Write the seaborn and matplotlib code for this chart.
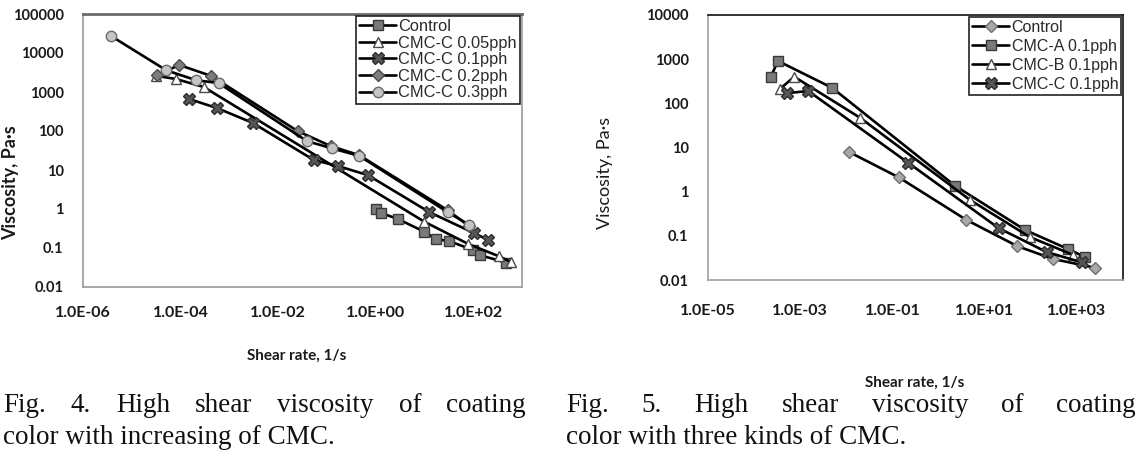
import numpy as np
import pandas as pd
import matplotlib
matplotlib.use("Agg")
import matplotlib.pyplot as plt
import seaborn as sns
from matplotlib.ticker import FixedLocator, FixedFormatter, NullLocator

# ---------------- Fig. 4 data (left) ----------------
left_names = ["Control", "CMC-C 0.05pph", "CMC-C 0.1pph", "CMC-C 0.2pph", "CMC-C 0.3pph"]
ctrl4_x = [1.0, 1.3, 2.9, 10, 17, 32, 100, 135, 480]
ctrl4_y = [1.0, 0.79, 0.55, 0.26, 0.17, 0.15, 0.089, 0.066, 0.042]
c005_x = [3.2e-5, 8.1e-5, 3.0e-4, 10, 80, 330, 590]
c005_y = [2600, 2150, 1340, 0.47, 0.126, 0.062, 0.044]
c01_x = [1.5e-4, 5.5e-4, 3.0e-3, 0.054, 0.17, 0.69, 12.6, 105, 204]
c01_y = [660, 390, 162, 18, 12.6, 7.4, 0.83, 0.24, 0.16]
c02_x = [3.3e-5, 9.5e-5, 4.3e-4, 0.025, 0.12, 0.46, 30, 83]
c02_y = [2750, 4900, 2570, 100, 41, 24, 0.93, 0.36]
c03_x = [3.8e-6, 5.1e-5, 2.1e-4, 6.0e-4, 0.039, 0.126, 0.46, 30, 83]
c03_y = [27000, 3600, 2000, 1700, 55, 36, 23, 0.83, 0.39]

# ---------------- Fig. 5 data (right) ----------------
right_names = ["Control", "CMC-A 0.1pph", "CMC-B 0.1pph", "CMC-C 0.1pph"]
ctrl5_x = [0.0115, 0.138, 4.0, 50, 300, 2450]
ctrl5_y = [7.9, 2.1, 0.23, 0.059, 0.030, 0.019]
a_x = [2.3e-4, 3.3e-4, 4.9e-3, 2.3, 76, 650, 1500]
a_y = [400, 910, 225, 1.35, 0.135, 0.050, 0.033]
b_x = [3.6e-4, 7.4e-4, 0.020, 4.8, 95, 830]
b_y = [210, 400, 47, 0.65, 0.094, 0.037]
c_x = [5.1e-4, 1.5e-3, 0.22, 20, 220, 1300]
c_y = [170, 190, 4.5, 0.15, 0.043, 0.025]

# tick values / labels
left_xticks = [1e-6, 1e-4, 1e-2, 1e0, 1e2]
left_xlabels = ["1.0E-06", "1.0E-04", "1.0E-02", "1.0E+00", "1.0E+02"]
left_yticks = [1e5, 1e4, 1e3, 1e2, 1e1, 1e0, 1e-1, 1e-2]
left_ylabels = ["100000", "10000", "1000", "100", "10", "1", "0.1", "0.01"]
right_xticks = [1e-5, 1e-3, 1e-1, 1e1, 1e3]
right_xlabels = ["1.0E-05", "1.0E-03", "1.0E-01", "1.0E+01", "1.0E+03"]
right_yticks = [1e4, 1e3, 1e2, 1e1, 1e0, 1e-1, 1e-2]
right_ylabels = ["10000", "1000", "100", "10", "1", "0.1", "0.01"]

cap4_line1 = "Fig. 4. High shear viscosity of coating"
cap4_line2 = "color with increasing of CMC."
cap5_line1 = "Fig. 5. High shear viscosity of coating"
cap5_line2 = "color with three kinds of CMC."

sns.set_theme(style="white")
plt.rcParams['font.family'] = ['Lato', 'DejaVu Sans']

W, H = 1139, 459
fig = plt.figure(figsize=(W / 100, H / 100), dpi=100)
fig.patch.set_facecolor("white")


def rect(l, t, r, b):
    return [l / W, 1 - b / H, (r - l) / W, (b - t) / H]


ax1 = fig.add_axes(rect(83, 14, 522, 287))
ax2 = fig.add_axes(rect(708, 15, 1123, 280))


def draw(ax, x, y, marker, fc, ec, ms):
    sns.lineplot(x=x, y=y, ax=ax, color="black", linewidth=1.9, marker=marker,
                 markerfacecolor=fc, markeredgecolor=ec, markersize=ms,
                 markeredgewidth=1.0, sort=False, estimator=None, legend=False)


# left series
draw(ax1, ctrl4_x, ctrl4_y, "s", "#7a7a7a", "#3a3a3a", 6.5)
draw(ax1, c005_x, c005_y, "^", "white", "#4a4a4a", 7.5)
draw(ax1, c01_x, c01_y, "X", "#555555", "#2e2e2e", 8.5)
draw(ax1, c02_x, c02_y, "D", "#7d7d7d", "#4a4a4a", 6.5)
draw(ax1, c03_x, c03_y, "o", "#c4c4c4", "#6a6a6a", 7.5)

# right series
draw(ax2, ctrl5_x, ctrl5_y, "D", "#a8a8a8", "#707070", 6)
draw(ax2, a_x, a_y, "s", "#7a7a7a", "#3a3a3a", 7)
draw(ax2, b_x, b_y, "^", "white", "#4a4a4a", 7.5)
draw(ax2, c_x, c_y, "X", "#555555", "#2e2e2e", 8.5)

for ax, xl, xt, xlab, yl, yt, ylab, xpad in [
        (ax1, (1e-6, 1e3), left_xticks, left_xlabels, (1e-2, 1e5), left_yticks, left_ylabels, 14),
        (ax2, (1e-5, 1e4), right_xticks, right_xlabels, (1e-2, 1e4), right_yticks, right_ylabels, 17)]:
    ax.set_xscale("log")
    ax.set_yscale("log")
    ax.set_xlim(*xl)
    ax.set_ylim(*yl)
    ax.xaxis.set_major_locator(FixedLocator(xt))
    ax.xaxis.set_major_formatter(FixedFormatter(xlab))
    ax.xaxis.set_minor_locator(NullLocator())
    ax.yaxis.set_major_locator(FixedLocator(yt))
    ax.yaxis.set_major_formatter(FixedFormatter(ylab))
    ax.yaxis.set_minor_locator(NullLocator())
    ax.tick_params(axis="x", length=0, pad=xpad, labelsize=11.5, colors="#1a1a1a")
    ax.tick_params(axis="y", length=0, pad=14, labelsize=10.5, colors="#1a1a1a")
    for lab in ax.get_xticklabels() + ax.get_yticklabels():
        lab.set_fontweight("bold")
    ax.set_xlabel("")
    ax.set_ylabel("")
    ax.grid(False)
    ax.set_facecolor("white")

# spines
for s in ax1.spines.values():
    s.set_color("#9a9a9a")
    s.set_linewidth(1.2)
ax1.spines["top"].set_color("#6a6a6a")
ax1.spines["top"].set_linewidth(2.0)
for name, s in ax2.spines.items():
    s.set_linewidth(1.2)
    s.set_color("#111111" if name in ("top", "right") else "#a0a0a0")

# legends
leg_fam = ['Liberation Sans', 'DejaVu Sans']
leg_kw = dict(loc="upper right", frameon=True, fancybox=False, shadow=False,
              borderaxespad=0.1, handletextpad=0.15, borderpad=0.2)
lg1 = ax1.legend(handles=ax1.lines[:5], labels=left_names, labelspacing=0.1,
                 handlelength=2.25, prop={'family': leg_fam, 'size': 11.8}, **leg_kw)
lg2 = ax2.legend(handles=ax2.lines[:4], labels=right_names, labelspacing=0.25,
                 handlelength=2.3, prop={'family': leg_fam, 'size': 11.5}, **leg_kw)
for lg in (lg1, lg2):
    fr = lg.get_frame()
    fr.set_edgecolor("#222222")
    fr.set_linewidth(1.2)
    fr.set_alpha(1)
    for t in lg.get_texts():
        t.set_color("#2a2a2a")

# axis titles
fig.text(297 / W, 1 - 356 / H, "Shear rate, 1/s", ha="center", va="center",
         fontsize=11, fontweight="bold", color="#1a1a1a")
fig.text(915 / W, 1 - 383 / H, "Shear rate, 1/s", ha="center", va="center",
         fontsize=11, fontweight="bold", color="#1a1a1a")
fig.text(11 / W, 1 - 183 / H, "Viscosity, Pa·s", ha="center", va="center",
         rotation=90, fontsize=13, fontweight="bold", color="#1a1a1a")
fig.text(605 / W, 1 - 173 / H, "Viscosity, Pa·s", ha="center", va="center",
         rotation=90, fontsize=13, color="#1a1a1a")

# captions (justified first lines)
cap_font = dict(family=['Liberation Serif', 'DejaVu Serif'], fontsize=19.5, color="#111111")
renderer = fig.canvas.get_renderer()


def justified(text, x0, x1, yc):
    words = text.split(" ")
    ts = [fig.text(0, 1 - yc / H, w, ha="left", va="center", **cap_font) for w in words]
    ws = [t.get_window_extent(renderer).width for t in ts]
    gap = (x1 - x0 - sum(ws)) / (len(words) - 1)
    x = x0
    for t, w in zip(ts, ws):
        t.set_x(x / W)
        x += w + gap


justified(cap4_line1, 3, 526, 406)
justified(cap5_line1, 566, 1136, 406)
fig.text(3 / W, 1 - 438 / H, cap4_line2, ha="left", va="center", **cap_font)
fig.text(566 / W, 1 - 438 / H, cap5_line2, ha="left", va="center", **cap_font)

fig.savefig("out.png", dpi=100, facecolor="white")
